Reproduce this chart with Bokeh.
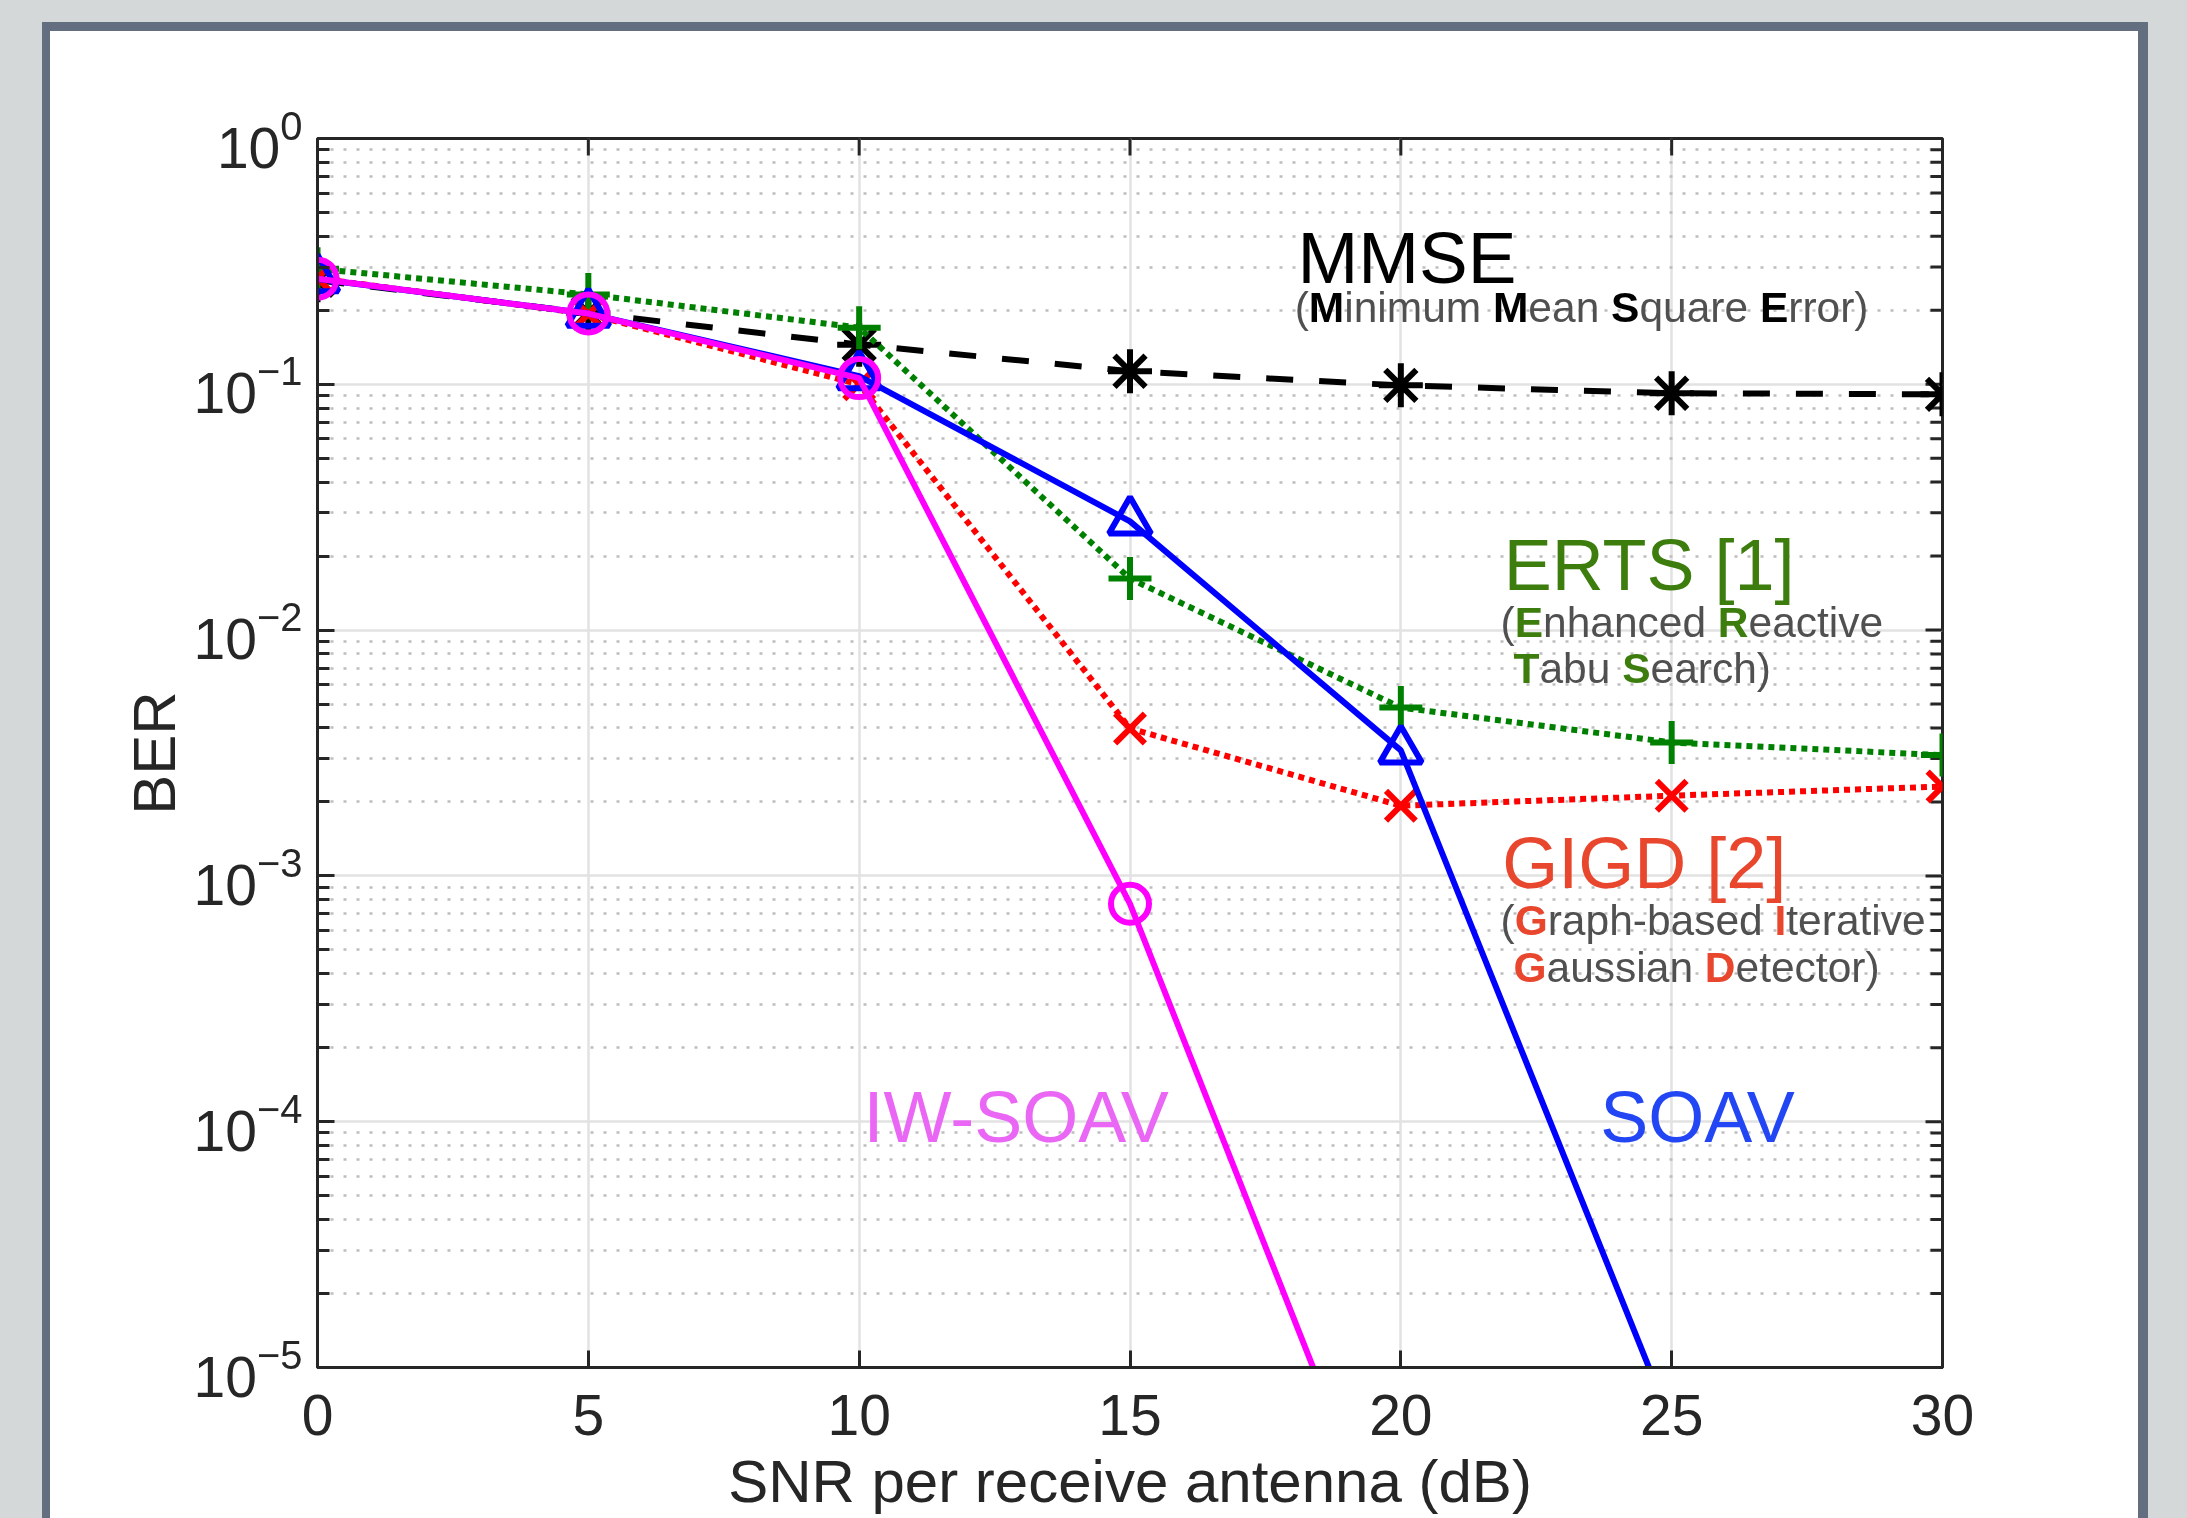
import math
from bokeh.plotting import figure
from bokeh.models import FixedTicker, Label, Range1d
from bokeh.embed import file_html
from bokeh.resources import INLINE

# ---------------- data ----------------
snr = [0, 5, 10, 15, 20, 25, 30]
mmse = [0.265, 0.195, 0.145, 0.113, 0.099, 0.092, 0.091]
erts = [0.295, 0.232, 0.170, 0.0162, 0.00484, 0.00349, 0.0031]
gigd = [0.270, 0.193, 0.100, 0.00398, 0.00193, 0.00212, 0.00231]
soav_snr = [0, 5, 10, 15, 20, 25]
soav = [0.268, 0.194, 0.108, 0.0277, 0.00324, 5.9e-6]
iwsoav_snr = [0, 5, 10, 15, 20]
iwsoav = [0.269, 0.194, 0.106, 7.7e-4, 1.25e-6]

x_ticks = [0, 5, 10, 15, 20, 25, 30]
y_ticks = [1e-5, 1e-4, 1e-3, 1e-2, 1e-1, 1.0]
y_minor = [m * d for d in [1e-5, 1e-4, 1e-3, 1e-2, 1e-1] for m in range(2, 10)]

x_label = "SNR per receive antenna (dB)"
y_label = "BER"

FONT = "Liberation Sans"
AXC = "#262626"

X0, X1 = 0, 30
Y0, Y1 = 1e-5, 1.0

p = figure(width=2187, height=1518,
           x_range=Range1d(X0, X1), y_range=Range1d(Y0, Y1),
           y_axis_type="log", output_backend="svg", toolbar_location=None,
           min_border_left=317, min_border_right=245,
           min_border_top=138, min_border_bottom=151)
p.border_fill_color = None
p.background_fill_color = "white"
p.outline_line_color = AXC
p.outline_line_width = 3

xt = FixedTicker(ticks=x_ticks, minor_ticks=[])
yt = FixedTicker(ticks=y_ticks, minor_ticks=y_minor)

def style_axis(ax):
    ax.axis_line_color = AXC
    ax.axis_line_width = 3
    ax.major_tick_line_color = AXC
    ax.major_tick_line_width = 3
    ax.minor_tick_line_color = AXC
    ax.minor_tick_line_width = 3
    ax.major_tick_in = 17
    ax.major_tick_out = 0
    ax.minor_tick_in = 12
    ax.minor_tick_out = 0
    ax.major_label_text_font = FONT
    ax.major_label_text_color = AXC
    ax.major_label_text_font_size = "57px"
    ax.axis_label_text_font = FONT
    ax.axis_label_text_font_size = "60px"
    ax.axis_label_text_font_style = "normal"
    ax.axis_label_text_color = AXC

xa = p.xaxis[0]
xa.ticker = xt
style_axis(xa)
xa.major_label_text_line_height = 1.0
xa.major_label_standoff = 27
xa.axis_label = x_label
xa.axis_label_text_line_height = 1.0
xa.axis_label_standoff = 10

ya = p.yaxis[0]
ya.ticker = yt
style_axis(ya)
ya.major_label_standoff = 15
ya.axis_label = y_label
ya.axis_label_standoff = 3

p.xgrid.ticker = xt
p.ygrid.ticker = yt
for g in (p.xgrid, p.ygrid):
    g.grid_line_color = "#e2e2e2"
    g.grid_line_width = 2.5
p.ygrid.minor_grid_line_color = "#bdbdbd"
p.ygrid.minor_grid_line_width = 2.5
p.ygrid.minor_grid_line_dash = "3 10"

# mirrored inward ticks on the top and right edges of the box
# (half of each dash is clipped away by the frame)
p.scatter(x_ticks, [Y1] * len(x_ticks), marker="dash", angle=math.pi / 2, size=34,
          line_color=AXC, line_width=3)
p.scatter([X1] * len(y_ticks), y_ticks, marker="dash", size=34, line_color=AXC, line_width=3)
p.scatter([X1] * len(y_minor), y_minor, marker="dash", size=24, line_color=AXC, line_width=3)

# ---------------- series ----------------
LW = 6
p.line(snr, mmse, line_color="black", line_width=LW, line_dash="27 26")
p.scatter(snr, mmse, marker="asterisk", size=44, line_color="black", line_width=LW)

p.line(snr, erts, line_color="#008000", line_width=LW, line_dash="6 5")
p.scatter(snr, erts, marker="cross", size=43, line_color="#008000", line_width=LW)

p.line(snr, gigd, line_color="#ff0000", line_width=LW, line_dash="6 5")
p.scatter(snr, gigd, marker="x", size=42, line_color="#ff0000", line_width=LW)

p.line(soav_snr, soav, line_color="#0000ff", line_width=LW)
p.scatter(soav_snr, soav, marker="triangle", size=42, line_color="#0000ff",
          fill_color=None, line_width=LW)

p.line(iwsoav_snr, iwsoav, line_color="#ff00ff", line_width=LW)
p.scatter(iwsoav_snr, iwsoav, marker="circle", size=38, line_color="#ff00ff",
          fill_color=None, line_width=LW)

# ---------------- annotations ----------------
W_REG = {" ": 278, "(": 333, ")": 333, "-": 333, "a": 556, "b": 556, "c": 500,
         "d": 556, "e": 556, "g": 556, "h": 556, "i": 222, "m": 833, "n": 556,
         "o": 556, "p": 556, "q": 556, "r": 333, "s": 500, "t": 278, "u": 556,
         "v": 500}
W_BOLD = {"M": 833, "E": 667, "S": 667, "R": 722, "T": 611, "G": 778, "I": 278, "D": 722}
LIFT = 0.35  # baseline correction, fraction of font size

def big_label(x, y, text, color, size=72):
    p.add_layout(Label(x=x, y=y, y_offset=LIFT * size, text=text, text_color=color,
                       text_font=FONT, text_font_size=f"{size}px", text_align="left",
                       text_baseline="alphabetic"))

def seg_label(x, y, segs, bold_color, size=42.5):
    off = 0.0
    for txt, bold in segs:
        p.add_layout(Label(x=x, y=y, x_offset=off, y_offset=LIFT * size, text=txt,
                           text_color=bold_color if bold else "#505050",
                           text_font=FONT, text_font_size=f"{size}px",
                           text_font_style="bold" if bold else "normal",
                           text_align="left", text_baseline="alphabetic"))
        table = W_BOLD if bold else W_REG
        off += sum(table.get(c, 556) for c in txt) * size / 1000.0

big_label(18.09, 0.257, "MMSE", "#000000", 73)
seg_label(18.04, 0.178, [("(", False), ("M", True), ("inimum ", False), ("M", True),
                         ("ean ", False), ("S", True), ("quare ", False), ("E", True),
                         ("rror)", False)], "#000000")

GREEN_T = "#3c7d0e"
big_label(21.9, 0.0145, "ERTS [1]", GREEN_T)
seg_label(21.84, 0.00935, [("(", False), ("E", True), ("nhanced ", False), ("R", True),
                           ("eactive", False)], GREEN_T)
seg_label(22.08, 0.00607, [("T", True), ("abu ", False), ("S", True), ("earch)", False)], GREEN_T)

RED_T = "#e8472e"
big_label(21.87, 8.9e-4, "GIGD [2]", RED_T)
seg_label(21.84, 5.72e-4, [("(", False), ("G", True), ("raph-based ", False), ("I", True),
                           ("terative", False)], RED_T)
seg_label(22.08, 3.70e-4, [("G", True), ("aussian ", False), ("D", True), ("etector)", False)], RED_T)

big_label(10.08, 8.26e-5, "IW-SOAV", "#ea66f4")
big_label(23.68, 8.26e-5, "SOAV", "#2346f5")

# ---------------- slide background / panel frame (page styling) ----------------
TEMPLATE = """
{% block postamble %}
<style>
html { background-color: #d4d8d9; }
body { margin: 0; padding: 0; background: transparent; overflow: hidden; }
body::before {
  content: ""; position: fixed; left: 42px; top: 22px; width: 2106px; height: 1700px;
  box-sizing: border-box; border-style: solid; border-color: #636e80;
  border-width: 9px 10px 0 8px; background: #ffffff; z-index: -1;
}
</style>
{% endblock %}
"""

open("out.html", "w").write(file_html(p, INLINE, title="BER", template=TEMPLATE))
